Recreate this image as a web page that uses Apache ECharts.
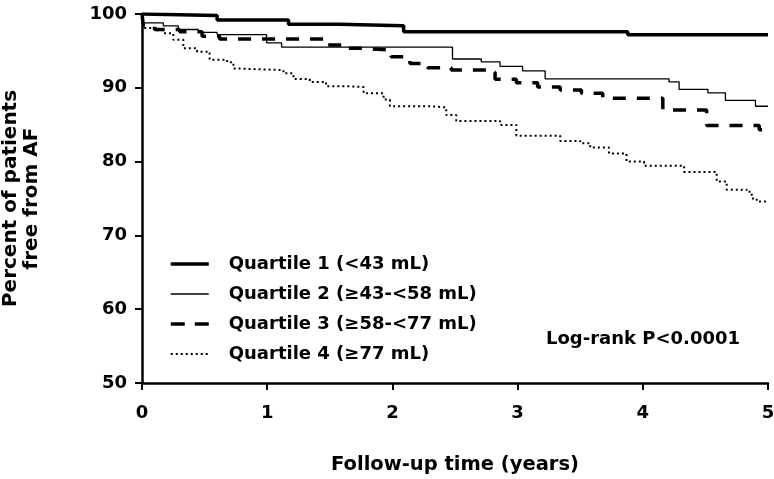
<!DOCTYPE html>
<html>
<head>
<meta charset="utf-8">
<script src="https://cdn.jsdelivr.net/npm/echarts@6/dist/echarts.min.js"></script>
<style>html,body{margin:0;padding:0;background:#fff}#c{width:774px;height:479px}</style>
</head>
<body>
<div id="c"></div>
<script>
// Follow-up time (years) at each step, and percent free from AF after that step
const q1_t = [0, 0.01, 0.60, 1.17, 1.575, 2.09, 3.88, 5.0];
const q1_s = [100, 99.8, 99.2, 98.6, 98.4, 97.6, 97.2, 97.2];

const q2_t = [0, 0.01, 0.17, 0.29, 0.45, 0.60, 0.995, 1.115, 2.48, 2.71, 2.86, 3.04, 3.22, 4.21, 4.29, 4.52, 4.66, 4.90, 5.0];
const q2_s = [100, 98.8, 98.4, 97.9, 97.5, 97.2, 96.1, 95.5, 93.9, 93.5, 92.9, 92.3, 91.2, 90.8, 89.8, 89.3, 88.3, 87.5, 87.5];

const q3_t = [0, 0.01, 0.10, 0.30, 0.48, 0.62, 1.47, 1.63, 1.77, 1.99, 2.14, 2.28, 2.47, 2.75, 2.82, 2.99, 3.16, 3.34, 3.51, 3.68, 4.16, 4.51, 4.93, 5.0];
const q3_s = [100, 98.5, 97.9, 97.6, 97.0, 96.6, 95.8, 95.35, 95.1, 94.2, 93.3, 92.7, 92.4, 92.1, 91.15, 90.7, 90.1, 89.7, 89.25, 88.6, 87.0, 84.9, 84.3, 84.3];

const q4_t = [0, 0.01, 0.117, 0.17, 0.25, 0.33, 0.44, 0.54, 0.68, 0.73, 0.78, 1.13, 1.21, 1.34, 1.47, 1.66, 1.77, 1.93, 1.98, 2.30, 2.43, 2.51, 2.86, 2.99, 3.34, 3.50, 3.58, 3.73, 3.87, 4.01, 4.33, 4.59, 4.67, 4.83, 4.87, 4.91, 5.0];
const q4_s = [100, 98.1, 97.8, 97.4, 96.5, 95.35, 94.9, 93.8, 93.45, 92.6, 92.4, 91.96, 91.2, 90.8, 90.2, 90.1, 89.25, 88.4, 87.5, 87.35, 86.3, 85.5, 84.96, 83.5, 82.8, 82.5, 81.9, 81.1, 80.0, 79.45, 78.6, 77.3, 76.2, 75.9, 75.0, 74.6, 74.6];

const seriesNames = ['Quartile 1 (<43 mL)', 'Quartile 2 (\u226543-<58 mL)', 'Quartile 3 (\u226558-<77 mL)', 'Quartile 4 (\u226577 mL)'];
const xTicks = [0, 1, 2, 3, 4, 5];
const yTicks = [50, 60, 70, 80, 90, 100];
const annotation = 'Log-rank P<0.0001';

const FONT = 'DejaVu Sans';
function pairs(t, s) { return t.map((v, i) => [v, s[i]]); }

const chart = echarts.init(document.getElementById('c'), null, {renderer: 'canvas'});
const styles = [
  {width: 3.5, type: 'solid'},
  {width: 1.3, type: 'solid'},
  {width: 3.5, type: [13, 11]},
  {width: 2, type: [2, 3]}
];
const legendStyles = [
  {width: 3.5, type: 'solid'},
  {width: 1.3, type: 'solid'},
  {width: 3.5, type: [14, 10]},
  {width: 2, type: [2, 3]}
];
const dataSets = [pairs(q1_t, q1_s), pairs(q2_t, q2_s), pairs(q3_t, q3_s), pairs(q4_t, q4_s)];

chart.setOption({
  animation: false,
  backgroundColor: '#fff',
  grid: {left: 142, right: 6, top: 14, bottom: 96, containLabel: false, outerBoundsMode: 'none'},
  legend: {
    orient: 'vertical', left: 164, top: 250,
    itemWidth: 38, itemHeight: 14, itemGap: 12,
    itemStyle: {opacity: 0},
    data: seriesNames.map((n, i) => ({
      name: n,
      itemStyle: {opacity: 0, color: 'rgba(0,0,0,0)', borderWidth: 0},
      lineStyle: {color: '#000', width: legendStyles[i].width, type: legendStyles[i].type, opacity: 1}
    })),
    textStyle: {fontFamily: FONT, fontWeight: 'bold', fontSize: 18, color: '#000', padding: [0, 0, 0, 15], lineHeight: 18}
  },
  xAxis: {
    type: 'value', min: xTicks[0], max: xTicks[xTicks.length - 1], interval: 1,
    name: 'Follow-up time (years)', nameLocation: 'middle', nameGap: 72,
    nameTextStyle: {fontFamily: FONT, fontWeight: 'bold', fontSize: 19.5, color: '#000'},
    axisLine: {lineStyle: {color: '#000', width: 2.5}},
    axisTick: {length: 7, lineStyle: {color: '#000', width: 2}},
    axisLabel: {fontFamily: FONT, fontWeight: 'bold', fontSize: 18, color: '#000', margin: 21},
    splitLine: {show: false}
  },
  yAxis: {
    type: 'value', min: yTicks[0], max: yTicks[yTicks.length - 1], interval: 10,
    name: 'Percent of patients\nfree from AF', nameLocation: 'middle', nameGap: 100,
    nameTextStyle: {fontFamily: FONT, fontWeight: 'bold', fontSize: 20, color: '#000', lineHeight: 21},
    axisLine: {show: true, lineStyle: {color: '#000', width: 2.5}},
    axisTick: {show: true, length: 7, lineStyle: {color: '#000', width: 2}},
    axisLabel: {fontFamily: FONT, fontWeight: 'bold', fontSize: 18, color: '#000', margin: 15},
    splitLine: {show: false}
  },
  series: seriesNames.map((n, i) => ({
    name: n, type: 'line', step: 'end', data: dataSets[i],
    showSymbol: false, symbol: 'none',
    lineStyle: {color: '#000', width: styles[i].width, type: styles[i].type},
    itemStyle: {color: '#000'}
  })),
  graphic: [{
    type: 'text', left: 546, top: 330,
    style: {text: annotation, fontFamily: FONT, fontWeight: 'bold', fontSize: 18, fill: '#000'}
  }]
});
</script>
</body>
</html>
